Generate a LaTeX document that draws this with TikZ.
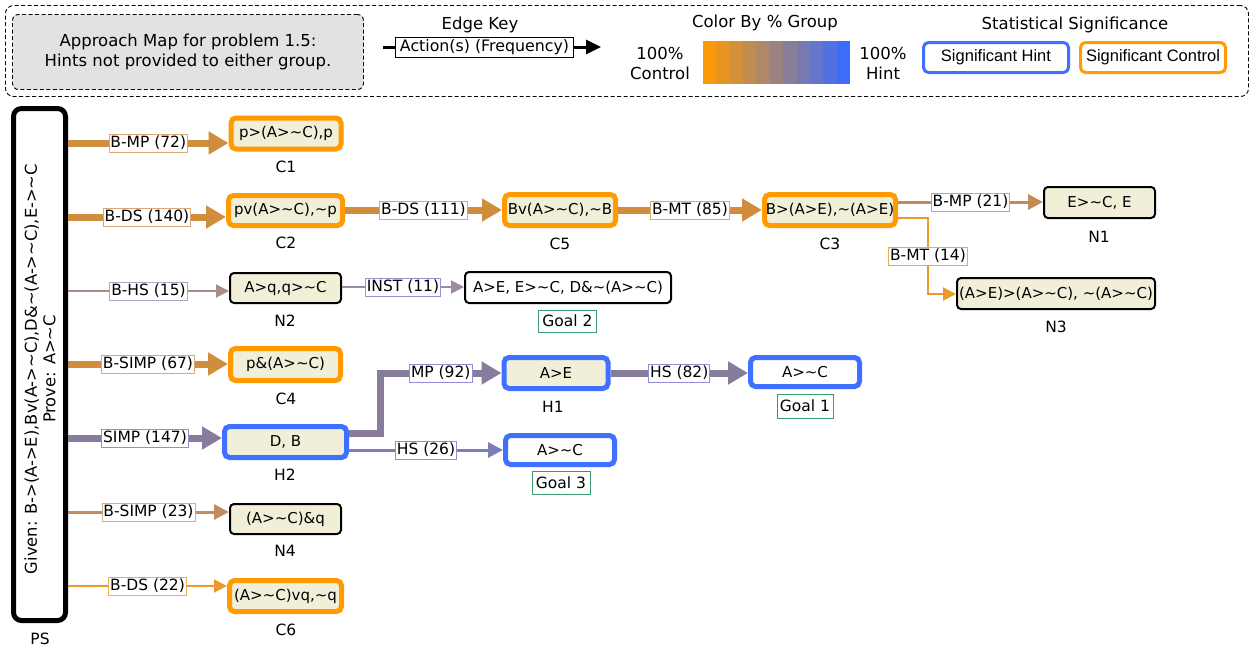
\documentclass[tikz,border=0pt]{standalone}
\usepackage{fontspec}
\setmainfont{DejaVu Sans}
\newfontfamily\helv{Liberation Sans}
\usetikzlibrary{arrows.meta}
\definecolor{SigOrange}{HTML}{FF9A00}
\definecolor{SigBlue}{HTML}{4070FF}
\definecolor{NodeFill}{HTML}{F2EFD8}
\definecolor{LegGray}{HTML}{E2E2E2}
\definecolor{GOr}{HTML}{FA9A08}
\definecolor{GBl}{HTML}{3E6CFA}
\definecolor{eOr}{HTML}{D08D3E}
\definecolor{eOrL}{HTML}{DDA878}
\definecolor{ePu}{HTML}{887C9C}
\definecolor{ePuL}{HTML}{8F8FD6}
\definecolor{eMPa}{HTML}{C38B57}
\definecolor{eMTa}{HTML}{EA9A2C}
\definecolor{eHSa}{HTML}{A88C86}
\definecolor{eHSaL}{HTML}{B4A4C4}
\definecolor{eIN}{HTML}{9C8AA2}
\definecolor{eINL}{HTML}{9A90D0}
\definecolor{eHSb}{HTML}{7C7EBA}
\definecolor{eSIb}{HTML}{BF8D5E}
\definecolor{eDSb}{HTML}{EC982C}
\definecolor{GoalG}{HTML}{3A9C6C}
\newcommand{\tld}{\textasciitilde}
\newcommand{\nf}{\fontsize{15}{17}\selectfont}
\newcommand{\ef}{\fontsize{15.5}{17}\selectfont}
\newcommand{\lf}{\fontsize{16.5}{20}\selectfont}
\tikzset{
  basebox/.style={rounded corners=5pt, font=\nf, inner sep=0pt, align=center},
  sigC/.style={basebox, draw=SigOrange, line width=5pt, fill=NodeFill},
  sigH/.style={basebox, draw=SigBlue, line width=5pt, fill=NodeFill},
  plainbox/.style={basebox, draw=black, line width=2pt, fill=NodeFill, rounded corners=4pt},
  nlabel/.style={font=\ef, inner sep=0pt},
  goallab/.style={draw=GoalG, line width=0.8pt, font=\ef, inner sep=2pt},
  elabel/.style={draw, fill=white, font=\ef, inner xsep=1.5pt, inner ysep=2pt, line width=0.8pt, text=black},
  thickE/.style={line width=7pt, -{Triangle[length=20pt,width=22pt]}},
  midE/.style={line width=3pt, -{Triangle[length=15pt,width=15pt]}},
  thinE/.style={line width=2pt, -{Triangle[length=13pt,width=13pt]}},
}
\begin{document}
\begin{tikzpicture}[x=1pt,y=-1pt]
\useasboundingbox (0,0) rectangle (1252,648);
% ---------- legend ----------
\node[draw, dash pattern=on 4pt off 2.5pt, line width=0.9pt, rounded corners=8pt, minimum width=1243pt, minimum height=91pt, inner sep=0pt] (legend) at (627,51) {};
\node[draw, fill=LegGray, dash pattern=on 4pt off 2.5pt, line width=0.9pt, rounded corners=6pt, minimum width=351pt, minimum height=75pt, inner sep=0pt, align=center, font=\lf] (title) at (188,52) {Approach Map for problem 1.5:\\Hints not provided to either group.};
\node[font=\lf] (ekt) at (480,25) {Edge Key};
\node[draw, fill=white, line width=0.9pt, inner sep=0pt, minimum width=178pt, minimum height=20pt, font=\fontsize{15.8}{18}\selectfont] (ek) at (484.5,47) {Action(s) (Frequency)};
\coordinate (ekL) at (383,47);
\coordinate (ekR) at (601,47);
\draw[line width=3pt] (ekL) -- (ek.west);
\draw[line width=3pt, -{Triangle[length=15pt,width=14pt]}] (ek.east) -- (ekR);
\node[font=\lf] (cbg) at (765,23) {Color By \% Group};
\node[font=\lf, align=center] (ctl) at (660,63) {100\%\\Control};
\foreach \i in {0,...,10} {
  \pgfmathtruncatemacro\p{100-\i*10}
  \fill[GOr!\p!GBl] ({703+\i*13.36},41) rectangle ({703+(\i+1)*13.36+0.4},84);
}
\node[font=\lf, align=center] (hnt) at (883,63) {100\%\\Hint};
\node[font=\lf] (ssig) at (1075,25) {Statistical Significance};
\node[draw=SigBlue, line width=3pt, rounded corners=5pt, minimum width=145pt, minimum height=30pt, inner sep=0pt, font=\helv\fontsize{16.5}{18}\selectfont] (sh) at (996,57.5) {Significant Hint};
\node[draw=SigOrange, line width=3pt, rounded corners=5pt, minimum width=145pt, minimum height=30pt, inner sep=0pt, font=\helv\fontsize{16.5}{18}\selectfont] (sc) at (1153,57.5) {Significant Control};
% ---------- PS ----------
\node[draw, line width=5pt, rounded corners=8pt, fill=white, minimum width=52pt, minimum height=512pt, inner sep=0pt] (PS) at (39.5,364.5) {};
\node[rotate=90, align=center, font=\fontsize{16.3}{18.5}\selectfont] (PStext) at (40,369) {Given: B->(A->E),Bv(A->\tld C),D\&\tld(A->\tld C),E->\tld C\\Prove: A>\tld C};
\node[nlabel] (PSl) at (40,639) {PS};
% ---------- nodes ----------
\node[sigC, minimum width=110pt, minimum height=31pt] (C1) at (286,133.5) {p>(A>\tld C),p};
\node[sigC, minimum width=114pt, minimum height=30pt] (C2) at (285.5,210.5) {pv(A>\tld C),\tld p};
\node[sigC, minimum width=111pt, minimum height=31pt] (C5) at (560,210) {Bv(A>\tld C),\tld B};
\node[sigC, minimum width=131pt, minimum height=31pt] (C3) at (830,210) {B>(A>E),\tld(A>E)};
\node[sigC, minimum width=110pt, minimum height=32pt] (C4) at (285.5,364.5) {p\&(A>\tld C)};
\node[sigC, minimum width=112pt, minimum height=31pt] (C6) at (285.5,596) {(A>\tld C)vq,\tld q};
\node[sigH, minimum width=122pt, minimum height=31pt] (H2) at (285.5,442) {D, B};
\node[sigH, minimum width=104pt, minimum height=31pt] (H1) at (556,373) {A>E};
\node[sigH, fill=white, minimum width=109pt, minimum height=29pt] (G1) at (805,372) {A>\tld C};
\node[sigH, fill=white, minimum width=109pt, minimum height=29pt] (G3) at (560,450) {A>\tld C};
\node[plainbox, minimum width=111pt, minimum height=31pt] (N1) at (1099.5,202.5) {E>\tld C, E};
\node[plainbox, minimum width=198pt, minimum height=31pt] (N3) at (1056,293.5) {(A>E)>(A>\tld C), \tld(A>\tld C)};
\node[plainbox, minimum width=111pt, minimum height=30pt] (N2) at (285.5,288) {A>q,q>\tld C};
\node[plainbox, fill=white, minimum width=206pt, minimum height=31pt] (G2) at (568,287.5) {A>E, E>\tld C, D\&\tld(A>\tld C)};
\node[plainbox, minimum width=111pt, minimum height=30pt] (N4) at (285.5,519) {(A>\tld C)\&q};
% ---------- node captions ----------
\node[nlabel] (C1l) at (286,167) {C1};
\node[nlabel] (C2l) at (286,243) {C2};
\node[nlabel] (C5l) at (560,244) {C5};
\node[nlabel] (C3l) at (830,244) {C3};
\node[nlabel] (N1l) at (1099,237) {N1};
\node[nlabel] (N3l) at (1056,327) {N3};
\node[nlabel] (N2l) at (285,321) {N2};
\node[nlabel] (C4l) at (286,399) {C4};
\node[nlabel] (H2l) at (285,475) {H2};
\node[nlabel] (H1l) at (553,407) {H1};
\node[nlabel] (N4l) at (285,551) {N4};
\node[nlabel] (C6l) at (286,630) {C6};
\node[goallab, minimum width=58pt, minimum height=22pt] (G2l) at (567.5,321) {Goal 2};
\node[goallab, minimum width=56pt, minimum height=24pt] (G1l) at (805,406) {Goal 1};
\node[goallab, minimum width=58pt, minimum height=23pt] (G3l) at (561,482.5) {Goal 3};
% ---------- row coordinates ----------
\coordinate (r1) at (0,143);
\coordinate (r2) at (0,217);
\coordinate (r3) at (0,291);
\coordinate (r4) at (0,364);
\coordinate (r5) at (0,438);
\coordinate (r6) at (0,512);
\coordinate (r7) at (0,586);
\coordinate (k1) at (0,210);
\coordinate (k2) at (0,202);
\coordinate (k3) at (0,218);
\coordinate (k4) at (0,294);
\coordinate (k5) at (0,287);
\coordinate (k6) at (0,433);
\coordinate (k7) at (0,373);
\coordinate (k8) at (0,450);
\coordinate (bx1) at (928,0);
\coordinate (bx2) at (380,0);
% ---------- edges ----------
\draw[thickE, eOr] (PS.east |- r1) -- node[elabel, draw=eOrL]{B-MP (72)} (C1.west |- r1);
\draw[thickE, eOr] (PS.east |- r2) -- node[elabel, draw=eOrL]{B-DS (140)} (C2.west |- r2);
\draw[thinE, eHSa] (PS.east |- r3) -- node[elabel, draw=eHSaL]{B-HS (15)} (N2.west |- r3);
\draw[thickE, eOr] (PS.east |- r4) -- node[elabel, draw=eOrL]{B-SIMP (67)} (C4.west |- r4);
\draw[thickE, ePu] (PS.east |- r5) -- node[elabel, draw=ePuL]{SIMP (147)} (H2.west |- r5);
\draw[midE, eSIb] (PS.east |- r6) -- node[elabel, draw=eSIb!70]{B-SIMP (23)} (N4.west |- r6);
\draw[thinE, eDSb] (PS.east |- r7) -- node[elabel, draw=eDSb!80]{B-DS (22)} (C6.west |- r7);
\draw[thickE, eOr] (C2.east |- k1) -- node[elabel, draw=eOrL]{B-DS (111)} (C5.west |- k1);
\draw[thickE, eOr] (C5.east |- k1) -- node[elabel, draw=eOrL]{B-MT (85)} (C3.west |- k1);
\draw[midE, eMPa] (C3.east |- k2) -- node[elabel, draw=eMPa!80]{B-MP (21)} (N1.west |- k2);
\draw[thinE, eMTa] (C3.east |- k3) -- (bx1 |- k3) -- node[elabel, draw=eMTa!85]{B-MT (14)} (bx1 |- k4) -- (N3.west |- k4);
\draw[thinE, eIN] (N2.east |- k5) -- node[elabel, draw=eINL]{INST (11)} (G2.west |- k5);
\draw[thickE, ePu] (H2.east |- k6) -- (bx2 |- k6) -- (bx2 |- k7) -- node[elabel, draw=ePuL]{MP (92)} (H1.west |- k7);
\draw[thickE, ePu] (H1.east |- k7) -- node[elabel, draw=ePuL]{HS (82)} (G1.west |- k7);
\draw[midE, eHSb] (H2.east |- k8) -- node[elabel, draw=ePuL]{HS (26)} (G3.west |- k8);
\end{tikzpicture}
\end{document}
